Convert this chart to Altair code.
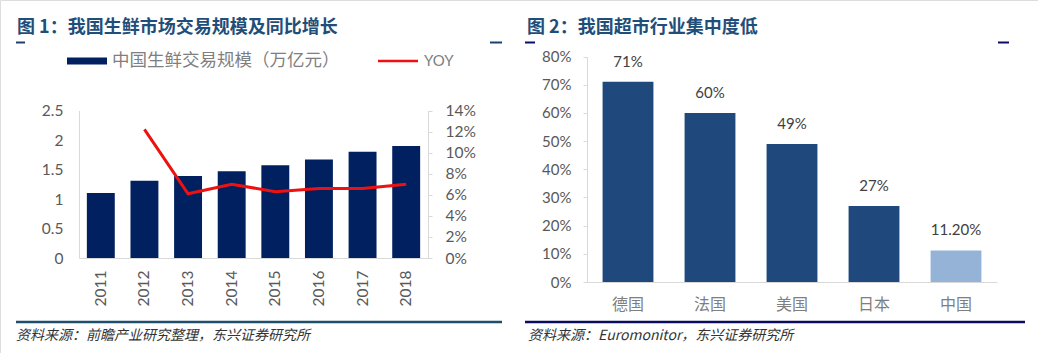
import altair as alt
import pandas as pd

# ---------------- data ----------------
years = ["2011", "2012", "2013", "2014", "2015", "2016", "2017", "2018"]
market_size = [1.10, 1.31, 1.39, 1.47, 1.57, 1.67, 1.80, 1.90]
yoy_years = ["2012", "2013", "2014", "2015", "2016", "2017", "2018"]
yoy_values = [0.122, 0.061, 0.070, 0.063, 0.066, 0.066, 0.070]

countries = ["德国", "法国", "美国", "日本", "中国"]
concentration = [0.71, 0.60, 0.49, 0.27, 0.112]
concentration_labels = ["71%", "60%", "49%", "27%", "11.20%"]

title1 = "图 1：我国生鲜市场交易规模及同比增长"
title2 = "图 2：我国超市行业集中度低"
legend_bar = "中国生鲜交易规模（万亿元）"
legend_line = "YOY"
source1 = "资料来源：前瞻产业研究整理，东兴证券研究所"
source2 = "资料来源：Euromonitor，东兴证券研究所"

W, H = 1038, 353
CJK = "Noto Sans CJK SC"
NUM = "Lato"
NAVY = "#002060"
RED = "#EE1111"
BLUE = "#1F497D"
LIGHT = "#95B3D7"
TITLE_C = "#1F4E79"
AX = "#D9D9D9"
LAB = "#595959"

df_bar = pd.DataFrame({"year": years, "size": market_size})
df_yoy = pd.DataFrame({"year": yoy_years, "yoy": yoy_values})
df_c = pd.DataFrame({"country": countries, "share": concentration,
                     "label": concentration_labels})

one = alt.Data(values=[{}])

# ---------------- left panel ----------------
x_left = alt.X("year:N", sort=years, title=None,
               scale=alt.Scale(range=[79, 428], paddingInner=0.36, paddingOuter=0.18),
               axis=alt.Axis(orient="bottom", offset=258 - H, labelAngle=270,
                             ticks=False, labelPadding=12, domainColor=AX,
                             labelFont=NUM, labelFontSize=15.5, labelColor=LAB,
                             grid=False))

bars_left = alt.Chart(df_bar).mark_bar(color=NAVY).encode(
    x=x_left,
    y=alt.Y("size:Q", title=None,
            scale=alt.Scale(domain=[0, 2.5], range=[258, 110.5], nice=False, zero=True),
            axis=alt.Axis(orient="left", offset=-79, ticks=False, labelPadding=16,
                          values=[0, 0.5, 1, 1.5, 2, 2.5], format=".1~f",
                          domainColor=AX, labelFont=NUM, labelFontSize=15.5,
                          labelColor=LAB, grid=False)),
)

line_left = alt.Chart(df_yoy).mark_line(color=RED, strokeWidth=3).encode(
    x=x_left,
    y=alt.Y("yoy:Q", title=None,
            scale=alt.Scale(domain=[0, 0.14], range=[258, 110.5], nice=False, zero=True),
            axis=alt.Axis(orient="right", offset=428 - W, ticks=True, tickSize=4,
                          tickColor=AX, labelPadding=13,
                          values=[0, 0.02, 0.04, 0.06, 0.08, 0.10, 0.12, 0.14],
                          format=".0%", domainColor=AX, labelFont=NUM,
                          labelFontSize=15.5, labelColor=LAB, grid=False)),
)

left = alt.layer(bars_left, line_left).resolve_scale(y="independent")

# ---------------- right panel ----------------
x_right = alt.X("country:N", sort=countries, title=None,
                scale=alt.Scale(range=[587, 997], paddingInner=0.38, paddingOuter=0.19),
                axis=alt.Axis(orient="bottom", offset=282 - H, labelAngle=0,
                              ticks=False, labelPadding=14, domainColor=AX,
                              labelFont=CJK, labelFontSize=16, labelColor="#7F7F7F",
                              grid=False))
y_right = alt.Y("share:Q", title=None,
                scale=alt.Scale(domain=[0, 0.8], range=[282, 56.5], nice=False, zero=True),
                axis=alt.Axis(orient="left", offset=-587, ticks=True, tickSize=4,
                              tickColor=AX, labelPadding=12,
                              values=[0, 0.1, 0.2, 0.3, 0.4, 0.5, 0.6, 0.7, 0.8],
                              format=".0%", domainColor=AX, labelFont=NUM,
                              labelFontSize=15, labelColor=LAB, grid=False))

bars_right = alt.Chart(df_c).mark_bar().encode(
    x=x_right, y=y_right,
    color=alt.condition(alt.datum.country == "中国", alt.value(LIGHT), alt.value(BLUE)),
)
labels_right = alt.Chart(df_c).mark_text(
    baseline="alphabetic", dy=-15, font=NUM, fontSize=15, color="#404040"
).encode(x=x_right, y=y_right, text="label:N")

right = alt.layer(bars_right, labels_right)

# ---------------- decorations ----------------
def text(s, x, y, size, color, font=CJK, weight="normal", style="normal"):
    return alt.Chart(one).mark_text(
        align="left", baseline="middle", font=font, fontSize=size,
        fontWeight=weight, fontStyle=style, color=color
    ).encode(x=alt.value(x), y=alt.value(y), text=alt.value(s))


def hrule(x1, x2, y, color, width):
    return alt.Chart(one).mark_rule(color=color, strokeWidth=width).encode(
        x=alt.value(x1), x2=alt.value(x2), y=alt.value(y))


legend_rect = alt.Chart(one).mark_rect(color=NAVY).encode(
    x=alt.value(67), x2=alt.value(107), y=alt.value(57.5), y2=alt.value(64.5))

decor = [
    text(title1, 17, 27.5, 18, TITLE_C, weight="bold"),
    text(title2, 527, 27.5, 18, TITLE_C, weight="bold"),
    hrule(16, 25, 42.5, "#1F3F6E", 2),
    hrule(490, 502, 42.5, "#1F3F6E", 2),
    hrule(525, 535, 42.5, "#0C0C6B", 2),
    hrule(998, 1009, 42.5, "#0C0C6B", 2),
    legend_rect,
    text(legend_bar, 112, 61, 17.5, "#7F7F7F"),
    hrule(378, 418, 61, RED, 2.5),
    text(legend_line, 424, 61, 15, "#7F7F7F", font=NUM),
    hrule(16, 502, 322, "#1F4E6B", 2.5),
    hrule(525, 1025, 322, "#0C0C5C", 2.5),
    text(source1, 16, 336, 14, "#333333", style="italic"),
    text(source2, 528, 336, 14, "#333333", style="italic"),
]

chart = alt.layer(left, right, *decor).resolve_scale(
    x="independent", y="independent"
).properties(
    width=W, height=H, padding=0, autosize=alt.AutoSizeParams(type="none")
).configure_view(stroke=None).configure(background="white")

chart.save("out.html", embed_options={"renderer": "svg", "actions": False})
